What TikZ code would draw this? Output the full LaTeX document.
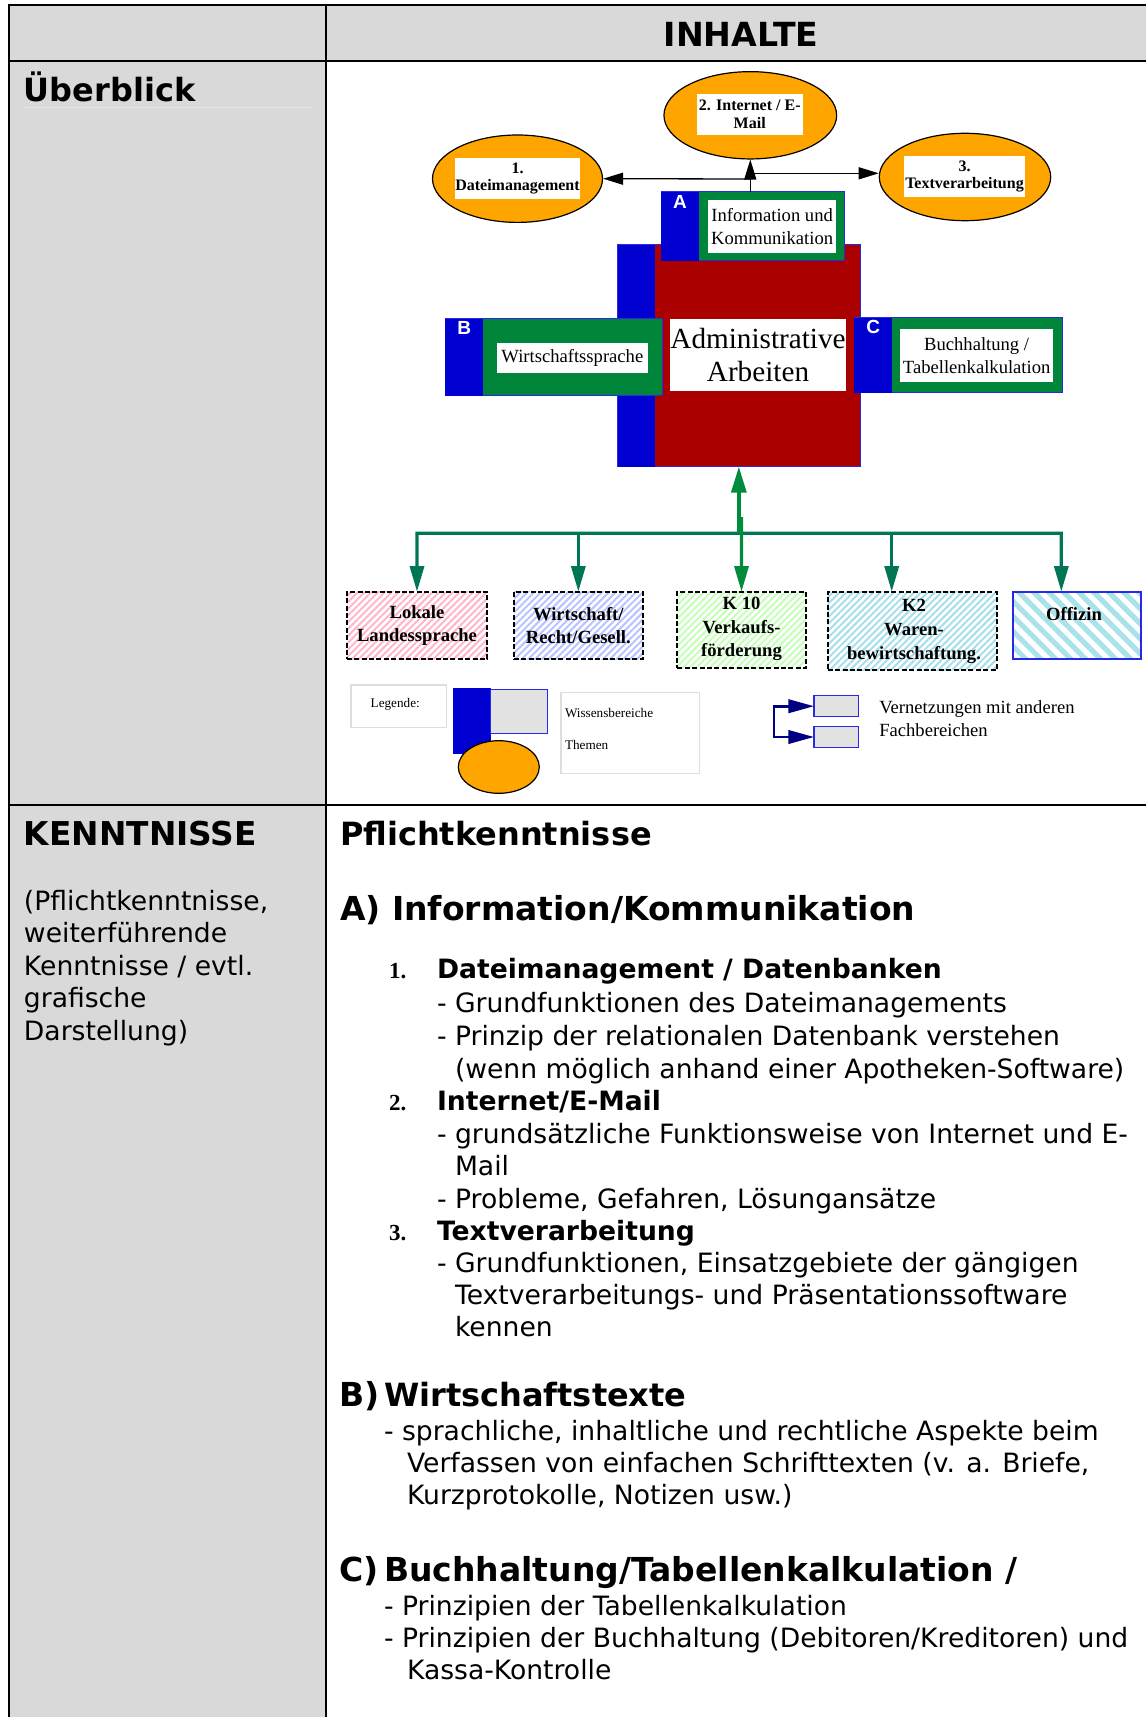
\documentclass[tikz,border=0pt]{standalone}
\usepackage{fontspec}
\setmainfont{DejaVu Sans}
\newfontfamily\tnr{Liberation Serif}
\newfontfamily\arl{Liberation Sans}
\usetikzlibrary{shapes.geometric,arrows.meta,patterns.meta,fit}
\definecolor{cellgray}{RGB}{217,217,217}
\definecolor{orng}{RGB}{255,165,0}
\definecolor{dred}{RGB}{170,0,0}
\definecolor{dblue}{RGB}{0,0,208}
\definecolor{bline}{RGB}{40,40,230}
\definecolor{dgreen}{RGB}{0,134,58}
\definecolor{tealg}{RGB}{0,118,86}
\definecolor{kgreen}{RGB}{0,140,60}
\definecolor{navyb}{RGB}{0,0,128}
\definecolor{lgray}{RGB}{226,226,226}
\definecolor{bordgray}{RGB}{222,222,222}
\definecolor{stpink}{RGB}{255,182,200}
\definecolor{stblue}{RGB}{184,194,255}
\definecolor{stgreen}{RGB}{196,255,184}
\definecolor{stcyan}{RGB}{166,222,236}
\definecolor{stoff}{RGB}{170,226,234}
\newcommand\bodyf{\fontsize{13.3}{16}\selectfont}
\newcommand\headf{\bfseries\fontsize{16}{19}\selectfont}
\newcommand\secf{\bfseries\fontsize{16.5}{20}\selectfont}
\begin{document}
\begin{tikzpicture}[x=0.5pt,y=-0.5pt,
  lbl/.style={anchor=base west,inner sep=0pt,outer sep=0pt},
  body/.style={lbl,font=\bodyf},
  bodyb/.style={lbl,font=\bodyf\bfseries},
  head/.style={lbl,font=\headf},
  sec/.style={lbl,font=\secf},
  num/.style={lbl,font=\tnr\bfseries\fontsize{11.5}{13}\selectfont},
  tline/.style={line width=1pt,black},
  box/.style={inner sep=0pt,outer sep=0pt},
  ell/.style={ellipse,draw=black,line width=0.6pt,fill=orng,inner sep=0pt},
  wlabel/.style={fill=white,inner sep=0pt,align=center},
  elltext/.style={wlabel,font=\tnr\bfseries\fontsize{8}{8.85}\selectfont},
  grptext/.style={wlabel,font=\tnr\fontsize{9.3}{11.65}\selectfont},
  letter/.style={font=\arl\bfseries\fontsize{9.5}{10}\selectfont,text=white,inner sep=0pt},
  blkarrow/.style={line width=0.65pt,-{Triangle[length=10pt,width=6pt]}},
  gtip/.style={-{Triangle[length=12.8pt,width=7pt]}},
  garrow/.style={line width=1.65pt,gtip},
  hatchbox/.style={box,draw=black,line width=0.9pt,dash pattern=on 2.5pt off 1.2pt},
  btext/.style={inner sep=0pt,align=center,font=\tnr\bfseries\fontsize{9.3}{11.8}\selectfont},
  smalltxt/.style={lbl,font=\tnr\fontsize{6.6}{8}\selectfont},
  grpbox/.style={box,fill=dgreen,draw=bline,line width=0.5pt},
  vbox/.style={box,fill=lgray,draw=bline,line width=0.6pt},
]
\useasboundingbox (0,0) rectangle (1146,1717);
% ---------- table ----------
\fill[cellgray] (9,5.5) rectangle (1146,61);
\fill[cellgray] (9,61) rectangle (326,1717);
\draw[tline] (1146,5.5) -- (9,5.5) -- (9,1717);
\draw[tline] (326,5.5) -- (326,1717);
\draw[tline] (9,61) -- (1146,61);
\draw[tline] (9,804.5) -- (1146,804.5);
\draw[white!90!black,line width=0.5pt] (23,108) -- (312,108);

\node[font=\bfseries\fontsize{16.6}{19}\selectfont,inner sep=0pt,anchor=base] (hdr) at (741,46.5) {INHALTE};
\node[head] (ueb) at (24,102) {Überblick};
\node[lbl,font=\bfseries\fontsize{16.4}{19}\selectfont] (ken) at (24,845) {KENNTNISSE};
\node[body] (k1) at (24,910) {(Pflichtkenntnisse,};
\node[body] (k2) at (24,942.5) {weiterführende};
\node[body] (k3) at (24,975) {Kenntnisse / evtl.};
\node[body] (k4) at (24,1007.5) {grafische};
\node[body] (k5) at (24,1040) {Darstellung)};

% right column text
\node[head] (pk) at (340,845) {Pflichtkenntnisse};
\node[sec] (sa) at (340,920) {A) Information/Kommunikation};
\node[num] (n1) at (389,978) {1.};
\node[bodyb] (h1) at (437,978) {Dateimanagement / Datenbanken};
\node[body] (l1) at (437,1012) {- Grundfunktionen des Dateimanagements};
\node[body] (l2) at (437,1045) {- Prinzip der relationalen Datenbank verstehen};
\node[body] (l3) at (455,1078) {(wenn möglich anhand einer Apotheken-Software)};
\node[num] (n2) at (389,1110) {2.};
\node[bodyb] (h2) at (437,1110) {Internet/E-Mail};
\node[body] (l4) at (437,1143) {- grundsätzliche Funktionsweise von Internet und E-};
\node[body] (l5) at (455,1175) {Mail};
\node[body] (l6) at (437,1208) {- Probleme, Gefahren, Lösungansätze};
\node[num] (n3) at (389,1240) {3.};
\node[bodyb] (h3) at (437,1240) {Textverarbeitung};
\node[body] (l7) at (437,1272) {- Grundfunktionen, Einsatzgebiete der gängigen};
\node[body] (l8) at (455,1304) {Textverarbeitungs- und Präsentationssoftware};
\node[body] (l9) at (455,1336) {kennen};
\node[sec] (sbl) at (339,1406) {B)};
\node[lbl,font=\bfseries\fontsize{16}{20}\selectfont] (sb) at (384,1406) {Wirtschaftstexte};
\node[body] (m1) at (384,1440) {- sprachliche, inhaltliche und rechtliche Aspekte beim};
\node[body] (m2) at (407,1472) {Verfassen von einfachen Schrifttexten (v. a. Briefe,};
\node[body] (m3) at (407,1504) {Kurzprotokolle, Notizen usw.)};
\node[sec] (scl) at (339,1581) {C)};
\node[sec] (sc) at (384,1581) {Buchhaltung/Tabellenkalkulation /};
\node[body] (c1) at (384,1615) {- Prinzipien der Tabellenkalkulation};
\node[body] (c2) at (384,1647) {- Prinzipien der Buchhaltung (Debitoren/Kreditoren) und};
\node[body] (c3) at (407,1679) {Kassa-Kontrolle};

% ---------- diagram ----------
% main box
\node[box,fit={(617.7,245)(860,466.7)},fill=dred,draw=bline,line width=0.5pt] (main) {};
\fill[dblue] (617.7,245) rectangle (655,466.7);
\node[wlabel,minimum width=87pt,minimum height=36pt,font=\tnr\fontsize{14.6}{16.5}\selectfont] (mainlab) at (758,355) {Administrative\\Arbeiten};

% group A
\node[grpbox,fit={(661,191.7)(844.3,261)}] (agrp) {};
\fill[dblue] (661,191.7) rectangle (699.3,261);
\node[grptext,minimum width=63.85pt,minimum height=26.35pt] (alab) at (772.15,226.35) {Information und\\Kommunikation};
\node[letter] (alet) at (680,201.7) {A};

% group B
\node[grpbox,fit={(445,319)(662.3,395.7)}] (bgrp) {};
\fill[dblue] (445,319) rectangle (482.7,395.7);
\node[grptext,minimum width=75.65pt,minimum height=14.85pt] (blab) at (572.35,357.85) {Wirtschaftssprache};
\node[letter] (blet) at (464.3,328.3) {B};

% group C
\node[grpbox,fit={(854,317.7)(1062.3,392.7)}] (cgrp) {};
\fill[dblue] (854,317.7) rectangle (891.7,392.7);
\node[grptext,minimum width=76.65pt,minimum height=26.65pt] (clab) at (976.65,355.35) {Buchhaltung /\\Tabellenkalkulation};
\node[letter] (clet) at (873.3,326.7) {C};

% ellipses
\node[ell,minimum width=85pt,minimum height=43.7pt] (e1) at (517.5,178.7) {};
\node[elltext,minimum width=62.5pt,minimum height=20.35pt] (t1) at (517.5,178.35) {1.\\Dateimanagement};
\node[ell,minimum width=86.35pt,minimum height=43.65pt] (e2) at (750.3,115.3) {};
\node[elltext,minimum width=53pt,minimum height=20.35pt] (t2) at (749.7,114.35) {2. Internet / E-\\Mail};
\node[ell,minimum width=85.7pt,minimum height=43.7pt] (e3) at (965,177) {};
\node[elltext,minimum width=60.5pt,minimum height=20.35pt] (t3) at (964.5,176.35) {3.\\Textverarbeitung};

% black arrows
\coordinate (jl) at (750.3,179);
\coordinate (jr) at (751.7,173.3);
\draw[blkarrow] (agrp.north -| e2.south) -- (e2.south);
\draw[blkarrow] (jl) -- (e1.east);
\draw[blkarrow] (jr) -- (jr -| e3.west);

% bottom boxes
\node[hatchbox,fit={(346.7,591.7)(487.3,659.3)},pattern={Lines[angle=45,distance=2.4pt,line width=1pt]},pattern color=stpink] (lok) {};
\node[btext] (lokt) at (417,625.7) {Lokale\\Landessprache};
\node[hatchbox,fit={(514,591.7)(642.7,659.3)},pattern={Lines[angle=45,distance=2.4pt,line width=1pt]},pattern color=stblue] (wir) {};
\node[btext] (wirt) at (578.3,625.7) {Wirtschaft/\\Recht/Gesell.};
\node[hatchbox,fit={(677.3,591.7)(805.7,668.3)},pattern={Lines[angle=45,distance=2.4pt,line width=1pt]},pattern color=stgreen] (k10) {};
\node[btext] (k10t) at (741.5,629) {K 10\\Verkaufs-\\förderung};
\node[hatchbox,fit={(827.7,591.7)(996.7,670)},pattern={Lines[angle=45,distance=2.4pt,line width=1pt]},pattern color=stcyan] (kz) {};
\node[btext] (kzt) at (914,631.3) {K2\\Waren-\\bewirtschaftung.};
\node[box,fit={(1012.7,591.7)(1141,659)},draw=bline,line width=0.8pt,pattern={Lines[angle=-45,distance=5.3pt,line width=2.6pt]},pattern color=stoff] (off) {};
\node[btext] (offt) at (1074,614) {Offizin};

% green arrows
\coordinate (hl) at (417,533.3);
\coordinate (hr) at (1061.3,533.3);
\coordinate (ka) at (891.7,533.3);
\coordinate (kt) at (741.5,517);
\draw[tealg,line width=1.65pt,{Triangle[length=12.8pt,width=7pt]}-{Triangle[length=12.8pt,width=7pt]}] (lok.north) -- (hl) -- (hr) -- (hr |- off.north);
\draw[garrow,tealg] (wir.north |- hl) -- (wir.north);
\draw[garrow,tealg] (ka) -- (ka |- kz.north);
\draw[garrow,kgreen] (kt) -- (k10.north);
\draw[kgreen,line width=1.65pt,-{Triangle[length=13pt,width=7.5pt]}] (main.south |- hl) -- (main.south);

% legend
\node[box,fit={(351,685)(446.7,727.3)},draw=bordgray,line width=0.6pt] (legbox) {};
\node[smalltxt] (legt) at (370.7,707) {Legende:};
\node[box,fit={(453.3,688.3)(490.7,754.3)},fill=dblue] (legblue) {};
\node[vbox,fit={(490.7,689.3)(547.3,733.3)}] (legrect) {};
\node[ell,minimum width=40.5pt,minimum height=26.3pt] (legell) at (498.8,767) {};
\node[box,fit={(561,692.7)(699.3,773.3)},draw=bordgray,line width=0.6pt] (wisbox) {};
\node[smalltxt] (wis1) at (565,717) {Wissensbereiche};
\node[smalltxt] (wis2) at (565,749) {Themen};

\node[vbox,fit={(814,695.7)(858.7,716.7)}] (vb1) {};
\node[vbox,fit={(814,726.7)(858.7,747.3)}] (vb2) {};
\coordinate (brk) at (774,721);
\draw[navyb,line width=1.3pt,{Triangle[length=12.8pt,width=6.7pt]}-{Triangle[length=12.8pt,width=6.7pt]}] (vb1.west) -- (brk |- vb1.west) -- (brk |- vb2.west) -- (vb2.west);
\node[lbl,font=\tnr\fontsize{9.3}{11}\selectfont] (vt1) at (879.3,713) {Vernetzungen mit anderen};
\node[lbl,font=\tnr\fontsize{9.3}{11}\selectfont] (vt2) at (879.3,736) {Fachbereichen};
\end{tikzpicture}
\end{document}
